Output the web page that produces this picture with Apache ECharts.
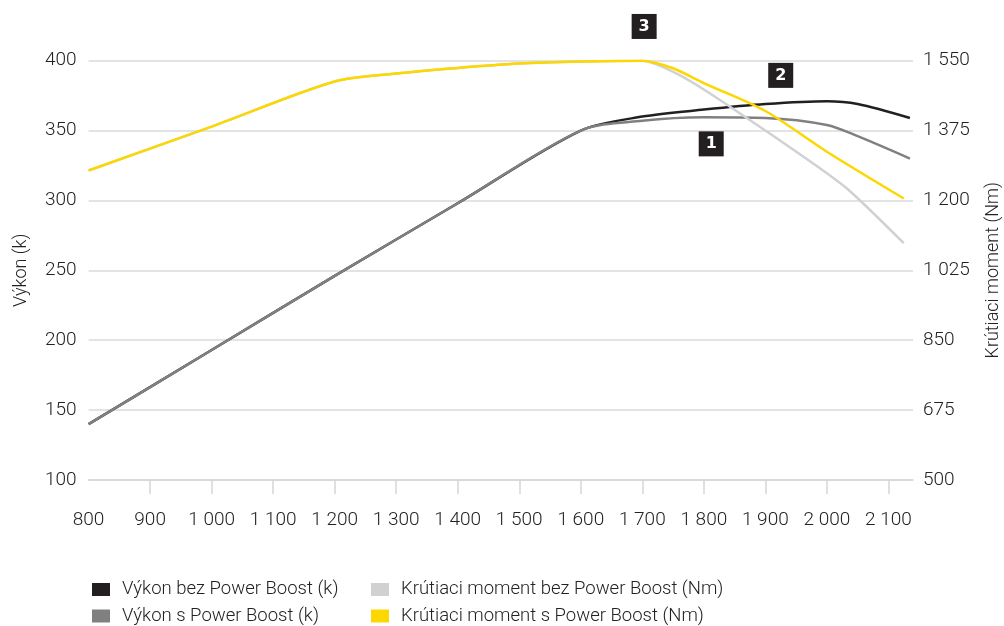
<!DOCTYPE html>
<html>
<head>
<meta charset="utf-8">
<script src="https://cdn.jsdelivr.net/npm/echarts@6/dist/echarts.min.js"></script>
<style>
  html, body { margin: 0; padding: 0; background: #fff; }
  #myChart { width: 1004px; height: 626px; }
</style>
</head>
<body>
<div id="myChart"></div>
<script>
// otacky (rpm)
const rpmPower = [800, 1000, 1200, 1400, 1600, 1700, 1800, 1900, 2000, 2050, 2135];
const rpmTorqueBez = [800, 1000, 1200, 1300, 1400, 1500, 1600, 1700, 1750, 1800, 1900, 2000, 2040, 2125];
const rpmTorqueS = [800, 1000, 1200, 1300, 1400, 1500, 1600, 1700, 1750, 1800, 1900, 2000, 2125];

// vykon (k)
const powerBez = [140, 193, 246, 298, 350, 360, 365, 369, 371, 369, 359];
const powerS = [140, 193, 246, 298, 350, 357, 359.5, 359, 354, 346, 330];

// krutiaci moment (Nm)
const torqueBez = [1275, 1385, 1498, 1518, 1532, 1543, 1548, 1550, 1522, 1478, 1375, 1268, 1220, 1093];
const torqueS = [1275, 1385, 1498, 1518, 1532, 1543, 1548, 1550, 1531, 1494, 1424, 1322, 1205];

const xTicks = [800, 900, 1000, 1100, 1200, 1300, 1400, 1500, 1600, 1700, 1800, 1900, 2000, 2100];

const seriesNames = [
  "Výkon bez Power Boost (k)",
  "Výkon s Power Boost (k)",
  "Krútiaci moment bez Power Boost (Nm)",
  "Krútiaci moment s Power Boost (Nm)"
];

// popisky 1, 2, 3 (x = rpm, y = vykon)
const notes = [
  { label: "1", rpm: 1812, value: 340.5 },
  { label: "2", rpm: 1925, value: 389.5 },
  { label: "3", rpm: 1703, value: 424.5 }
];

function pairs(xs, ys) {
  return xs.map((x, i) => [x, ys[i]]);
}
function fmt(v) {
  let s = String(v);
  return s.length > 3 ? s.slice(0, s.length - 3) + " " + s.slice(-3) : s;
}

const font = "Roboto";
const textColor = "#222222";
const fs = 19;

function legendCfg(left, names) {
  return {
    left: left,
    top: 580,
    padding: 0,
    orient: "vertical",
    icon: "rect",
    itemWidth: 18,
    itemHeight: 13,
    itemGap: 7.5,
    data: names,
    textStyle: { fontFamily: font, fontWeight: 300, fontSize: 18.5, lineHeight: 18, color: textColor, padding: [0, 0, 0, 7] }
  };
}

function lineSeries(name, axis, color, xs, ys) {
  return {
    name: name,
    type: "line",
    yAxisIndex: axis,
    color: color,
    symbol: "none",
    smooth: 0.3,
    lineStyle: { width: 2.5 },
    data: pairs(xs, ys)
  };
}

let chart = echarts.init(document.getElementById("myChart"));
let option = {
  animation: false,
  textStyle: { fontFamily: font },
  grid: { left: 88.6, right: 91, top: 60.7, bottom: 146, containLabel: false, outerBoundsMode: "none" },
  legend: [
    legendCfg(92, [seriesNames[0], seriesNames[1]]),
    legendCfg(371, [seriesNames[2], seriesNames[3]])
  ],
  xAxis: {
    type: "value",
    min: 800,
    max: 2140,
    interval: 100,
    axisLine: { show: true, lineStyle: { color: "#d6d6d6", width: 1.5 } },
    axisTick: { show: true, length: 14, customValues: xTicks.slice(1), lineStyle: { color: "#d6d6d6", width: 1.5 } },
    axisLabel: {
      customValues: xTicks,
      formatter: fmt,
      margin: 31,
      fontFamily: font,
      fontWeight: 300,
      fontSize: fs,
      color: textColor
    },
    splitLine: { show: false }
  },
  yAxis: [
    {
      type: "value",
      min: 100,
      max: 400,
      interval: 50,
      name: "Výkon (k)",
      nameLocation: "middle",
      nameGap: 58.5,
      nameTextStyle: { fontFamily: font, fontWeight: 300, fontSize: 18, color: textColor },
      axisLine: { show: false },
      axisTick: { show: false },
      axisLabel: { margin: 12, formatter: fmt, fontFamily: font, fontWeight: 300, fontSize: fs, color: textColor },
      splitLine: { show: true, lineStyle: { color: "#dadada", width: 1.5 } }
    },
    {
      type: "value",
      min: 500,
      max: 1550,
      interval: 175,
      position: "right",
      name: "Krútiaci moment (Nm)",
      nameLocation: "middle",
      nameGap: 71.5,
      nameRotate: 90,
      nameTextStyle: { fontFamily: font, fontWeight: 300, fontSize: 18, color: textColor },
      axisLine: { show: false },
      axisTick: { show: false },
      axisLabel: { margin: 10, formatter: fmt, fontFamily: font, fontWeight: 300, fontSize: fs, color: textColor },
      splitLine: { show: false }
    }
  ],
  series: [
    lineSeries(seriesNames[0], 0, "#231f20", rpmPower, powerBez),
    lineSeries(seriesNames[1], 0, "#808081", rpmPower, powerS),
    lineSeries(seriesNames[2], 1, "#d1d1d1", rpmTorqueBez, torqueBez),
    lineSeries(seriesNames[3], 1, "#fcd700", rpmTorqueS, torqueS)
  ]
};
chart.setOption(option);

// cislovane popisky ako graficke prvky, umiestnene cez os grafu
let boxes = notes.map(n => {
  let p = chart.convertToPixel({ xAxisIndex: 0, yAxisIndex: 0 }, [n.rpm, n.value]);
  return {
    type: "group",
    x: p[0],
    y: p[1],
    children: [
      { type: "rect", shape: { x: -12.5, y: -12.5, width: 25, height: 25 }, style: { fill: "#231f20" } },
      {
        type: "text",
        style: {
          text: n.label,
          x: 0,
          y: 0,
          align: "center",
          verticalAlign: "middle",
          fill: "#fff",
          fontFamily: "DejaVu Sans",
          fontWeight: "bold",
          fontSize: 16
        }
      }
    ]
  };
});
chart.setOption({ graphic: boxes });
</script>
</body>
</html>
